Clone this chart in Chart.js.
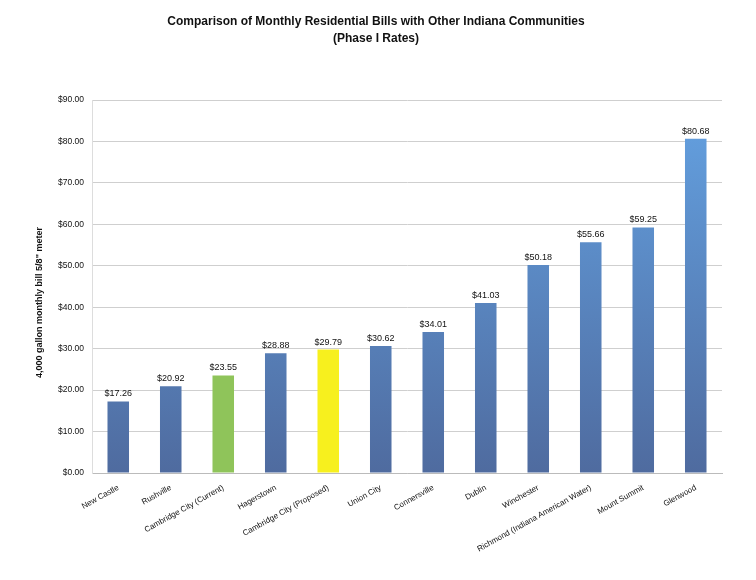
<!DOCTYPE html>
<html>
<head>
<meta charset="utf-8">
<script src="https://cdn.jsdelivr.net/npm/chart.js@4.4.1/dist/chart.umd.min.js"></script>
<style>
  html, body { margin: 0; padding: 0; background: #fff; }
  #wrap { width: 756px; height: 580px; }
</style>
</head>
<body>
<div id="wrap"><canvas id="billChart"></canvas></div>
<script>
// values
var communities = ['New Castle', 'Rushville', 'Cambridge City (Current)', 'Hagerstown',
  'Cambridge City (Proposed)', 'Union City', 'Connersville', 'Dublin', 'Winchester',
  'Richmond (Indiana American Water)', 'Mount Summit', 'Glenwood'];
var monthlyBill = [17.26, 20.92, 23.55, 28.88, 29.79, 30.62, 34.01, 41.03, 50.18, 55.66, 59.25, 80.68];
var yTicks = [0, 10, 20, 30, 40, 50, 60, 70, 80, 90];
var yTitle = '4,000 gallon monthly bill 5/8" meter';

var FONT = '"Liberation Sans", Arial, sans-serif';

function money(v) { return '$' + v.toFixed(2); }

// value labels above bars + the rotated y axis title (sits a bit below centre in the original)
var extraText = {
  id: 'extraText',
  afterDatasetsDraw: function (chart) {
    var ctx = chart.ctx;
    var meta = chart.getDatasetMeta(0);
    var area = chart.chartArea;
    ctx.save();
    ctx.font = '9px ' + FONT;
    ctx.fillStyle = '#111';
    ctx.textAlign = 'center';
    ctx.textBaseline = 'bottom';
    meta.data.forEach(function (bar, i) {
      ctx.fillText(money(monthlyBill[i]), bar.x, bar.y - 3);
    });

    ctx.translate(40, (area.top + area.bottom) / 2 + 16);
    ctx.rotate(-Math.PI / 2);
    ctx.font = 'bold 9px ' + FONT;
    ctx.textBaseline = 'middle';
    ctx.fillText(yTitle, 0, 0);
    ctx.restore();
  }
};

function barColor(c) {
  var i = c.dataIndex;
  if (communities[i] === 'Cambridge City (Current)') return '#8fc45a';
  if (communities[i] === 'Cambridge City (Proposed)') return '#f7f01e';
  var area = c.chart.chartArea;
  if (!area) return '#5a82c0';
  var g = c.chart.ctx.createLinearGradient(0, area.top, 0, area.bottom);
  g.addColorStop(0, '#64a2e2');
  g.addColorStop(1, '#4f6b9f');
  return g;
}

var ctx = document.getElementById('billChart').getContext('2d');
new Chart(ctx, {
  type: 'bar',
  data: {
    labels: communities,
    datasets: [{
      data: monthlyBill,
      backgroundColor: barColor,
      borderWidth: 0,
      categoryPercentage: 1,
      barPercentage: 0.41
    }]
  },
  plugins: [extraText],
  options: {
    responsive: true,
    maintainAspectRatio: false,
    animation: false,
    layout: { padding: { left: 30, right: 34, top: 0, bottom: 0 } },
    plugins: {
      legend: { display: false },
      tooltip: { enabled: false },
      title: {
        display: true,
        text: ['Comparison of Monthly Residential Bills with Other Indiana Communities', '(Phase I Rates)'],
        color: '#111',
        font: { family: FONT, size: 12, weight: 'bold', lineHeight: 1.4 },
        padding: { top: 13, bottom: 53.4 }
      }
    },
    scales: {
      x: {
        grid: { display: false },
        border: { color: '#bbb' },
        ticks: {
          color: '#111',
          minRotation: 29,
          maxRotation: 29,
          autoSkip: false,
          padding: 2,
          font: { family: FONT, size: 8 }
        },
        afterFit: function (s) { s.height = 107; }
      },
      y: {
        min: 0,
        max: 90,
        afterBuildTicks: function (s) { s.ticks = yTicks.map(function (v) { return { value: v }; }); },
        grid: { color: '#cfcfcf', drawTicks: false },
        border: { color: '#ddd' },
        ticks: {
          color: '#111',
          padding: 8,
          font: { family: FONT, size: 8.5 },
          callback: function (v) { return money(v); }
        },
        afterFit: function (s) { s.width = 62; }
      }
    }
  }
});
</script>
</body>
</html>
